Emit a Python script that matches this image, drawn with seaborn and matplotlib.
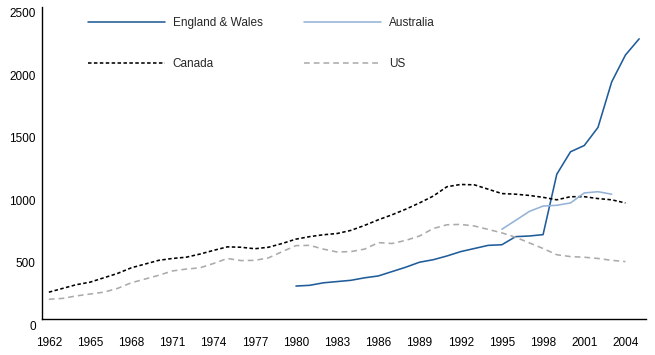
import numpy as np
import pandas as pd
import matplotlib
matplotlib.use("Agg")
import matplotlib.pyplot as plt
from matplotlib.transforms import ScaledTranslation
import seaborn as sns

sns.set_theme(style="white")
plt.rcParams['font.family'] = ['Liberation Sans', 'DejaVu Sans']

years_canada = list(range(1962, 2005))
canada = [215, 245, 275, 295, 330, 365, 410, 440, 470, 485, 495, 520, 550, 578,
          575, 563, 575, 605, 640, 660, 675, 685, 710, 750, 795, 835, 880, 930,
          985, 1060, 1078, 1075, 1040, 1005, 1000, 990, 975, 955, 980, 980, 965,
          955, 930]

years_us = list(range(1962, 2005))
us = [158, 165, 185, 200, 215, 245, 290, 320, 350, 385, 400, 410, 445, 485,
      468, 470, 490, 540, 588, 590, 560, 537, 540, 560, 612, 605, 630, 665,
      725, 755, 758, 745, 718, 690, 655, 610, 565, 515, 500, 495, 485, 470, 460]

years_ew = list(range(1980, 2006))
england_wales = [264, 270, 290, 300, 310, 330, 345, 380, 415, 455, 475, 505,
                 540, 565, 590, 595, 660, 665, 676, 1160, 1340, 1390, 1535,
                 1900, 2115, 2245]

years_aus = list(range(1995, 2004))
australia = [719, 790, 862, 905, 911, 930, 1010, 1020, 1000]

x_tick_years = list(range(1962, 2005, 3))
y_ticks = [0, 500, 1000, 1500, 2000, 2500]

series = [
    ("England & Wales", years_ew, england_wales, "#1F5C99", None),
    ("Canada", years_canada, canada, "#000000", (2.2, 1.5)),
    ("Australia", years_aus, australia, "#95B3D7", None),
    ("US", years_us, us, "#ABABAB", (3.6, 2.5)),
]

fig = plt.figure(figsize=(6.55, 3.55), dpi=100)
ax = fig.add_axes([0.0641, 0.1014, 0.9222, 0.8789])

handles = {}
for name, xs, ys, color, dash in series:
    df = pd.DataFrame({"year": xs, "value": ys})
    sns.lineplot(data=df, x="year", y="value", color=color, linewidth=1.15,
                 estimator=None, ax=ax, label=name, legend=False)
    line = ax.lines[-1]
    if dash is not None:
        line.set_dashes(dash)
    handles[name] = line

ax.set_xlim(1961.5, 2005.5)
ax.set_ylim(0, 2500)
ax.set_xticks(x_tick_years)
ax.set_xticklabels([str(y) for y in x_tick_years])
ax.set_yticks(y_ticks)
ax.set_yticklabels([str(v) for v in y_ticks])
ax.set_xlabel("")
ax.set_ylabel("")
ax.tick_params(axis='both', length=0, labelsize=8.5, colors="#000000")
ax.tick_params(axis='x', pad=13)
ax.tick_params(axis='y', pad=4.5)
offset = ScaledTranslation(0, -6 / 100, fig.dpi_scale_trans)
for lab in ax.get_yticklabels():
    lab.set_transform(lab.get_transform() + offset)
ax.grid(False)
for s in ["top", "right"]:
    ax.spines[s].set_visible(False)
for s in ["left", "bottom"]:
    ax.spines[s].set_color("#000000")
    ax.spines[s].set_linewidth(1.0)

order = ["England & Wales", "Canada", "Australia", "US"]
fig.legend([handles[n] for n in order], order, ncol=2, loc="upper left",
           bbox_to_anchor=(0.134, 0.951), frameon=False, fontsize=8.5,
           handlelength=6.5, handletextpad=0.7, columnspacing=3.5,
           labelspacing=2.4, borderpad=0, borderaxespad=0)

fig.savefig("out.png", dpi=100)
